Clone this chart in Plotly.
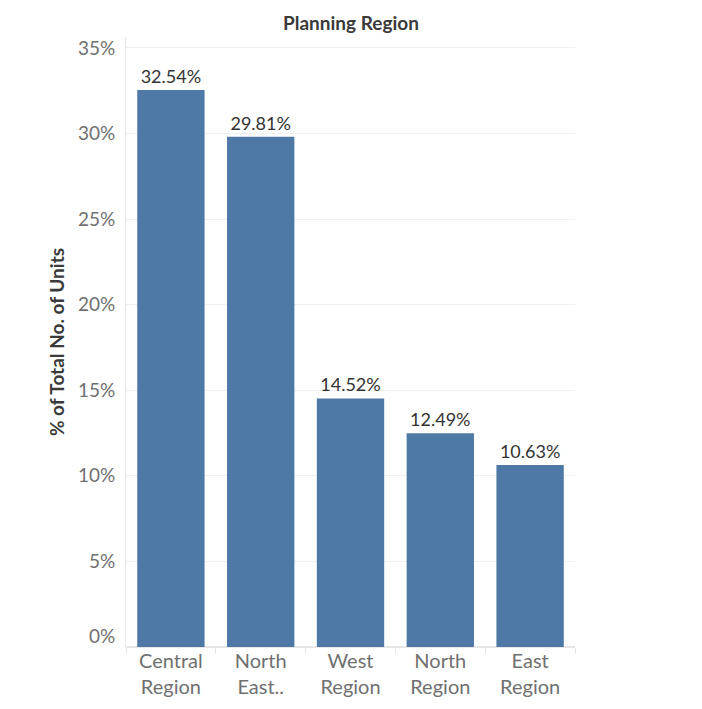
import plotly.graph_objects as go

categories = ["Central<br>Region", "North<br>East..", "West<br>Region", "North<br>Region", "East<br>Region"]
values = [32.54, 29.81, 14.52, 12.49, 10.63]
y_ticks = [5, 10, 15, 20, 25, 30, 35]
y_tick_labels = ["5%", "10%", "15%", "20%", "25%", "30%", "35%"]

FONT = "Lato"
fig = go.Figure(
    go.Bar(
        x=categories,
        y=values,
        marker=dict(color="#4e79a7", line=dict(width=0)),
        text=[f"{v:.2f}%" for v in values],
        textposition="outside",
        textfont=dict(family=FONT, size=18, color="#333333"),
        cliponaxis=False,
        width=0.75,
    )
)

fig.update_layout(
    width=702,
    height=709,
    margin=dict(l=126, r=127, t=37, b=62),
    paper_bgcolor="white",
    plot_bgcolor="white",
    showlegend=False,
    font=dict(family=FONT, color="#707070", size=19),
    annotations=[
        dict(text="<b>Planning Region</b>", x=0.5, xref="paper", y=1, yref="paper", yshift=15,
             yanchor="middle", xanchor="center", showarrow=False,
             font=dict(family=FONT, size=19, color="#3a3a3a")),
        dict(text="0%", x=-0.021, xref="paper", xanchor="right", y=0, yref="y",
             yshift=12, showarrow=False, font=dict(family=FONT, size=19, color="#707070")),
    ],
)

fig.update_yaxes(
    range=[0, 35.64],
    tickvals=y_ticks,
    ticktext=y_tick_labels,
    showgrid=True,
    gridcolor="#f0f0f0",
    gridwidth=1,
    zeroline=True,
    zerolinecolor="#e6e6e6",
    showline=True,
    linecolor="#e6e6e6",
    ticks="",
    ticklabelstandoff=6,
    tickfont=dict(family=FONT, size=19, color="#707070"),
    title=dict(text="<b>% of Total No. of Units</b>", font=dict(family=FONT, size=19, color="#3a3a3a"), standoff=8),
)
fig.update_xaxes(
    type="category",
    tickson="boundaries",
    ticks="outside",
    ticklen=6,
    tickcolor="#e6e6e6",
    showline=False,
    showgrid=False,
    tickfont=dict(family=FONT, size=20, color="#707070"),
)

fig.write_html("out.html")
